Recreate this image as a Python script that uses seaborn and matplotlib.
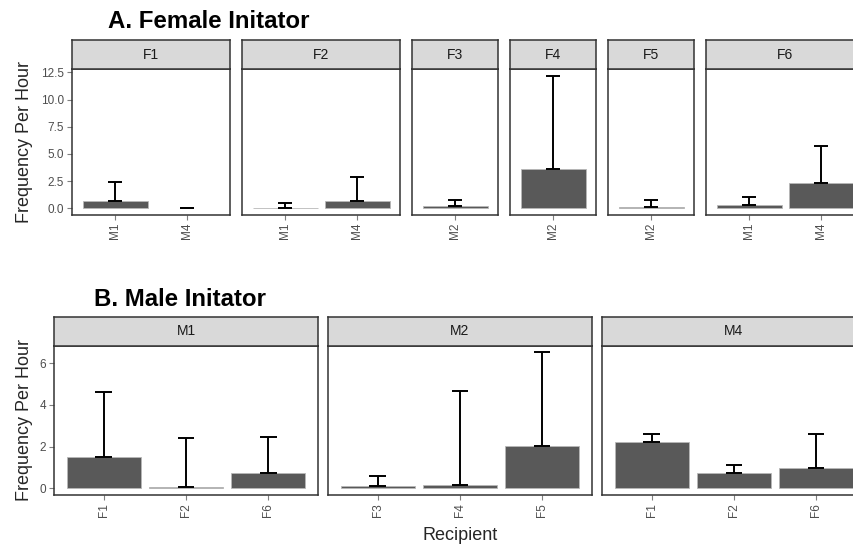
import matplotlib
matplotlib.use("Agg")
import matplotlib.pyplot as plt
import seaborn as sns
import pandas as pd
import numpy as np
from matplotlib.ticker import FormatStrFormatter

# ---------------- data ----------------
top_initiator = ['F1', 'F1', 'F2', 'F2', 'F3', 'F4', 'F5', 'F6', 'F6']
top_recipient = ['M1', 'M4', 'M1', 'M4', 'M2', 'M2', 'M2', 'M1', 'M4']
top_freq = [0.68, 0.0, 0.07, 0.66, 0.24, 3.6, 0.15, 0.33, 2.37]
top_upper = [2.42, 0.0, 0.45, 2.85, 0.75, 12.2, 0.75, 1.0, 5.74]
top_facets = ['F1', 'F2', 'F3', 'F4', 'F5', 'F6']

bot_initiator = ['M1', 'M1', 'M1', 'M2', 'M2', 'M2', 'M4', 'M4', 'M4']
bot_recipient = ['F1', 'F2', 'F6', 'F3', 'F4', 'F5', 'F1', 'F2', 'F6']
bot_freq = [1.48, 0.05, 0.72, 0.11, 0.17, 2.02, 2.24, 0.75, 0.95]
bot_upper = [4.61, 2.42, 2.46, 0.59, 4.66, 6.51, 2.59, 1.13, 2.59]
bot_facets = ['M1', 'M2', 'M4']

top_yticks = [0.0, 2.5, 5.0, 7.5, 10.0, 12.5]
bot_yticks = [0, 2, 4, 6]

top_title = "A. Female Initator"
bot_title = "B. Male Initator"
ylab = "Frequency Per Hour"
xlab = "Recipient"

# ---------------- style ----------------
sns.set_style("white")
plt.rcParams['font.family'] = ['Liberation Sans', 'DejaVu Sans']

W, H = 854, 547
fig = plt.figure(figsize=(W / 100, H / 100), dpi=100)

BAR = '#595959'
EDGE = '#b8b8b8'
BORDER = '#333333'
STRIP = '#D9D9D9'
TICKC = '#4D4D4D'


def fx(px):
    return px / W


def fy(py):
    return 1 - py / H


def draw_row(df, facets, x0, unit, gap, ptop, pbot, stop, yticks, fmt, show_xlab):
    ymax = df['upper'].max()
    ymin = 0.0
    pad = 0.05 * (ymax - ymin)
    left = x0
    axes = []
    for i, fac in enumerate(facets):
        sub = df[df['initiator'] == fac].reset_index(drop=True)
        n = len(sub)
        wpx = (n + 0.2) * unit
        ax = fig.add_axes([fx(left), fy(pbot), fx(wpx), (pbot - ptop) / H])
        sns.barplot(data=sub, x='recipient', y='freq', order=list(sub['recipient']),
                    color=BAR, saturation=1, width=0.9, errorbar=None,
                    edgecolor=EDGE, linewidth=0.6, ax=ax)
        for p in ax.patches:
            if p.get_height() == 0:
                p.set_edgecolor('none')
        xs = np.arange(n)
        ax.vlines(xs, sub['freq'], sub['upper'], color='black', linewidth=1.4, zorder=5)
        for y in ('freq', 'upper'):
            ax.hlines(sub[y], xs - 0.1, xs + 0.1, color='black', linewidth=1.4, zorder=5)
        ax.set_xlim(-0.6, n - 0.4)
        ax.set_ylim(ymin - pad, ymax + pad)
        ax.set_yticks(yticks)
        if fmt:
            ax.yaxis.set_major_formatter(FormatStrFormatter(fmt))
        ax.set_xlabel('')
        ax.set_ylabel('')
        ax.tick_params(axis='x', rotation=90, labelsize=8.5, labelcolor=TICKC,
                       length=3.5, width=0.8, color='#7f7f7f', pad=2.2, bottom=True)
        ax.tick_params(axis='y', labelsize=8.5, labelcolor=TICKC,
                       length=3.5, width=0.8, color='#7f7f7f', pad=2.2, left=(i == 0))
        if i > 0:
            ax.set_yticklabels([])
        for s in ax.spines.values():
            s.set_visible(True)
            s.set_color(BORDER)
            s.set_linewidth(1.1)
        ax.grid(False)
        # strip
        sax = fig.add_axes([fx(left), fy(ptop), fx(wpx), (ptop - stop) / H])
        sax.set_facecolor(STRIP)
        sax.set_xticks([])
        sax.set_yticks([])
        for s in sax.spines.values():
            s.set_visible(True)
            s.set_color(BORDER)
            s.set_linewidth(1.1)
        sax.text(0.5, 0.5, fac, ha='center', va='center', fontsize=10,
                 color='#1A1A1A', transform=sax.transAxes)
        axes.append(ax)
        left += wpx + gap
    return axes


top_df = pd.DataFrame({'initiator': top_initiator, 'recipient': top_recipient,
                       'freq': top_freq, 'upper': top_upper})
bot_df = pd.DataFrame({'initiator': bot_initiator, 'recipient': bot_recipient,
                       'freq': bot_freq, 'upper': bot_upper})

draw_row(top_df, top_facets, 72, 72, 11.6, 69, 215, 40, top_yticks, '%.1f', False)
draw_row(bot_df, bot_facets, 54.3, 82.3, 10.6, 345.7, 495, 316.7, bot_yticks, None, True)

fig.text(fx(108), fy(28.5), top_title, fontsize=17.3, fontweight='bold',
         ha='left', va='baseline', color='black')
fig.text(fx(94.3), fy(306), bot_title, fontsize=17.3, fontweight='bold',
         ha='left', va='baseline', color='black')
fig.text(fx(25), fy(142), ylab, rotation=90, fontsize=13, ha='center', va='center')
fig.text(fx(25), fy(420), ylab, rotation=90, fontsize=13, ha='center', va='center')
fig.text(fx(460), fy(535.5), xlab, fontsize=13, ha='center', va='center')

fig.savefig('out.png', dpi=100, facecolor='white')
